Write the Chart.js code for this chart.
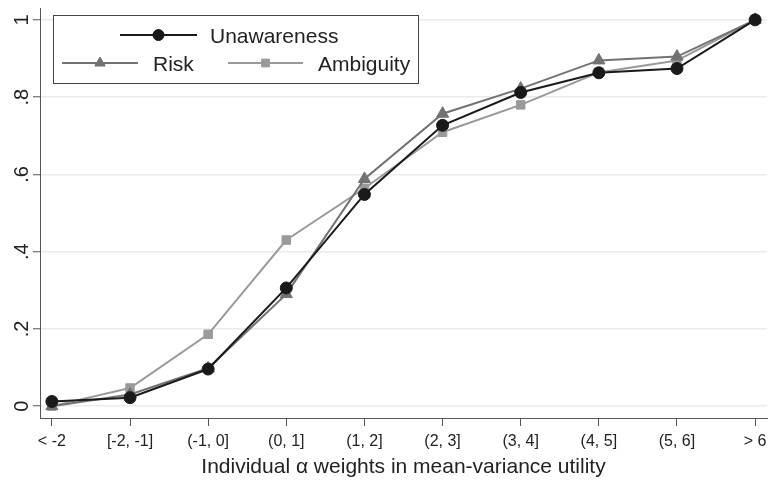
<!DOCTYPE html>
<html>
<head>
<meta charset="utf-8">
<script src="https://cdn.jsdelivr.net/npm/chart.js@4.4.1/dist/chart.umd.min.js"></script>
<style>
html, body { margin: 0; padding: 0; background: #fff; }
</style>
</head>
<body>
<canvas id="chart" width="775" height="483"></canvas>
<script>
const categories = ['< -2', '[-2, -1]', '(-1, 0]', '(0, 1]', '(1, 2]', '(2, 3]', '(3, 4]', '(4, 5]', '(5, 6]', '> 6'];
const unawareness = [0.012, 0.022, 0.096, 0.306, 0.548, 0.727, 0.812, 0.863, 0.874, 1.0];
const risk = [0.0, 0.03, 0.098, 0.29, 0.588, 0.757, 0.822, 0.895, 0.905, 1.0];
const ambiguity = [0.0, 0.047, 0.186, 0.43, 0.564, 0.709, 0.78, 0.864, 0.895, 1.0];
const yTicks = [0, 0.2, 0.4, 0.6, 0.8, 1];
const yTickLabels = ['0', '.2', '.4', '.6', '.8', '1'];
const xTitle = 'Individual α weights in mean-variance utility';

const fontFamily = '"Liberation Sans", Arial, Helvetica, sans-serif';

function toPoints(arr) {
    return arr.map((v, i) => ({ x: i, y: v }));
}

// rotated y tick labels, stata style
const yLabelsPlugin = {
    id: 'yLabels',
    afterDraw(chart) {
        const c = chart.ctx;
        const y = chart.scales.y;
        c.save();
        c.fillStyle = '#222';
        c.font = '20px ' + fontFamily;
        c.textAlign = 'center';
        c.textBaseline = 'alphabetic';
        for (let i = 0; i < yTicks.length; i++) {
            const py = y.getPixelForValue(yTicks[i]);
            c.save();
            c.translate(28, py);
            c.rotate(-Math.PI / 2);
            c.fillText(yTickLabels[i], 0, 0);
            c.restore();
        }
        c.restore();
    }
};

// boxed legend, first row centered
const legendPlugin = {
    id: 'boxLegend',
    afterDraw(chart) {
        const c = chart.ctx;
        c.save();
        c.fillStyle = '#fff';
        c.fillRect(53.5, 15.5, 365, 68);
        c.strokeStyle = '#444';
        c.lineWidth = 1;
        c.strokeRect(53.5, 15.5, 365, 68);
        const items = [
            { ds: 0, x1: 120, x2: 197, y: 35, tx: 210, ty: 43, r: 5.5 },
            { ds: 1, x1: 62, x2: 138, y: 63, tx: 153, ty: 71, r: 6 },
            { ds: 2, x1: 228, x2: 303, y: 63, tx: 318, ty: 71, r: 5.5 }
        ];
        items.forEach(it => {
            const ds = chart.data.datasets[it.ds];
            c.strokeStyle = ds.borderColor;
            c.lineWidth = ds.borderWidth;
            c.beginPath();
            c.moveTo(it.x1, it.y);
            c.lineTo(it.x2, it.y);
            c.stroke();
            c.fillStyle = ds.pointBackgroundColor;
            c.strokeStyle = ds.pointBorderColor;
            c.lineWidth = 1;
            Chart.helpers.drawPoint(c, { pointStyle: ds.pointStyle, radius: it.r, borderWidth: 1, rotation: 0 }, (it.x1 + it.x2) / 2, it.y);
            c.fillStyle = '#222';
            c.font = '21px ' + fontFamily;
            c.textAlign = 'left';
            c.textBaseline = 'alphabetic';
            c.fillText(ds.label, it.tx, it.ty);
        });
        c.restore();
    }
};

const data = {
    datasets: [{
        label: 'Unawareness',
        data: toPoints(unawareness),
        borderColor: '#1a1a1a',
        backgroundColor: '#1a1a1a',
        pointBackgroundColor: '#1a1a1a',
        pointBorderColor: '#1a1a1a',
        borderWidth: 2,
        pointStyle: 'circle',
        pointRadius: 6,
        pointBorderWidth: 1
    }, {
        label: 'Risk',
        data: toPoints(risk),
        borderColor: '#727272',
        backgroundColor: '#727272',
        pointBackgroundColor: '#727272',
        pointBorderColor: '#727272',
        borderWidth: 2,
        pointStyle: 'triangle',
        pointRadius: 7,
        pointBorderWidth: 1
    }, {
        label: 'Ambiguity',
        data: toPoints(ambiguity),
        borderColor: '#9a9a9a',
        backgroundColor: '#9a9a9a',
        pointBackgroundColor: '#9a9a9a',
        pointBorderColor: '#9a9a9a',
        borderWidth: 2,
        pointStyle: 'rect',
        pointRadius: 6,
        pointBorderWidth: 1
    }]
};

const config = {
    type: 'line',
    data: data,
    options: {
        responsive: false,
        animation: false,
        layout: { padding: { top: 3, right: 0, bottom: 0, left: 0 } },
        plugins: {
            legend: { display: false },
            tooltip: { enabled: false }
        },
        scales: {
            x: {
                type: 'linear',
                min: -0.152,
                max: 9.152,
                afterBuildTicks: s => { s.ticks = categories.map((c, i) => ({ value: i })); },
                afterFit: s => { s.height = 65; s.paddingLeft = 0; s.paddingRight = 0; },
                ticks: {
                    callback: v => categories[v],
                    font: { size: 16, family: fontFamily },
                    color: '#222',
                    padding: 6,
                    maxRotation: 0,
                    autoSkip: false
                },
                grid: { display: true, drawOnChartArea: false, drawTicks: true, tickLength: 8, tickColor: '#555', tickWidth: 1 },
                border: { display: true, color: '#555', width: 1 },
                title: {
                    display: true,
                    text: xTitle,
                    font: { size: 21, family: fontFamily },
                    color: '#222',
                    padding: { top: 2, bottom: 3 }
                }
            },
            y: {
                min: -0.0307,
                max: 1.0307,
                afterBuildTicks: s => { s.ticks = yTicks.map(v => ({ value: v })); },
                afterFit: s => { s.width = 40; },
                ticks: { display: false },
                grid: { color: '#e6edf1', lineWidth: 1.5, drawTicks: true, tickLength: 7, tickColor: '#555', tickWidth: 1 },
                border: { display: true, color: '#555', width: 1 }
            }
        }
    },
    plugins: [yLabelsPlugin, legendPlugin]
};

let ctx = document.getElementById('chart').getContext('2d');
new Chart(ctx, config);
</script>
</body>
</html>
